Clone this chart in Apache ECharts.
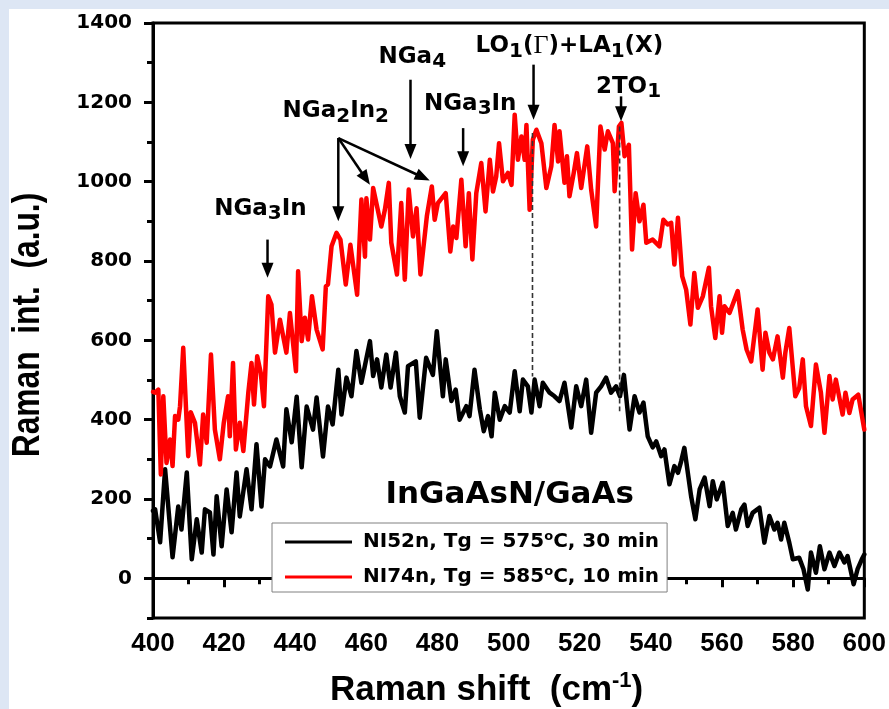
<!DOCTYPE html>
<html><head><meta charset="utf-8">
<script src="https://cdn.jsdelivr.net/npm/echarts@6.0.0/dist/echarts.min.js"></script>
<style>html,body{margin:0;padding:0;background:#dde6f4}#c{width:889px;height:709px}</style>
</head><body><div id="c"></div>
<script>
// ---------- data ----------
const seriesNames = ['NI52n, Tg = 575oC, 30 min', 'NI74n, Tg = 585oC, 10 min'];
const yTickValues = [0, 200, 400, 600, 800, 1000, 1200, 1400];
const yMinorTickValues = [-100, 100, 300, 500, 700, 900, 1100, 1300];

const blackX = [400,400.6,402,403.4,405.5,407.1,408,409.5,410.9,412.3,413.7,414.6,416,417,417.9,419.3,420.7,422.1,423.5,424.4,426.3,427.7,429.1,430.5,431.5,432.9,434.7,436.6,437.5,439,440.4,441.8,443.2,445,446,447.8,449.2,450.5,452.1,453,454.4,455.8,457.2,458.6,461,461.9,463,464.2,465.6,466.8,468.3,469.4,470.8,471.7,473.9,475,476.8,478.7,479.8,481.5,482.3,483.9,485.1,486.2,488.1,489,490.4,491.9,493,494.2,495.2,496.1,497.5,498.9,500.3,501.7,503.1,504,505.4,506.4,507.3,508.7,509.6,511.5,512.9,514.3,515.7,517.6,519,520.4,521.8,523.2,524.6,526,527.4,528.8,530.2,531.3,532.4,534,535.4,536.8,537.9,539.1,540.5,541.5,542.9,543.8,545.2,546.6,547.6,548.5,549.4,551.3,552.5,553.7,555.1,556.5,557.4,558.5,560.2,561.6,563,563.9,565.4,566.3,567.2,568.6,570.5,571.9,573.3,574.7,575.6,576.6,577.5,578.9,579.9,581.7,582.9,584.1,585,586.4,587.5,588.8,590.2,591.6,593,594.4,595.3,597,598.1,599.3,600];
const blackY = [170,174,91,275,53,181,123,267,48,149,65,174,166,60,207,81,224,116,267,156,275,174,338,181,300,282,350,282,426,343,458,280,433,375,456,307,433,388,526,413,506,459,573,493,598,510,552,481,564,481,569,459,418,535,547,405,556,513,623,459,552,447,476,400,434,409,526,426,371,409,358,468,400,434,418,522,421,501,484,418,501,434,493,468,459,447,493,380,484,434,501,367,468,484,506,468,484,459,513,375,459,418,443,358,330,345,308,325,237,283,266,295,329,207,149,224,254,182,245,199,241,132,165,123,174,186,132,165,178,90,157,123,140,98,140,90,48,52,23,-28,65,14,81,23,65,31,65,40,56,-15,23,48,60];

const redX = [400,400.6,401.5,402.2,402.9,403.8,404.8,405.5,406.2,407.1,407.6,408.5,409.9,410.6,411.8,413.2,414.1,415.1,416.3,417.4,418.8,419.9,421.1,421.6,422.5,423.3,424.4,425.4,426.8,427.7,428.4,429.3,430.3,431.2,432.4,433.3,434.3,435.7,437.5,438.5,440.2,440.8,441.8,442.7,443.6,444.7,446,447.7,448.6,449.2,450.2,451.6,452.7,454.2,455.5,457.4,458.6,459.6,460,461,461.9,464.2,465.2,466.3,467,468.6,469.8,470.8,471.9,473.1,474.1,475.2,477,478.4,479.2,480.1,482.3,483.6,484.4,485.3,486.7,487.9,488.8,489.8,490.9,492.3,493.5,494.7,495.6,496.5,497.3,498.4,499.8,500.8,501.7,502.6,503.6,504.5,505,505.9,506.8,507.8,509.2,510.6,512,512.9,513.9,514.3,515.7,516.4,517.1,518.3,519.2,520.4,522.1,523.2,524.6,525.8,527,527.9,529.3,529.8,531,531.7,532.6,533.8,534.7,535.7,536.8,537.9,538.7,540.5,542.4,543.5,544.7,545.7,546.6,547.6,548.8,549.9,551.1,552.2,553.2,554.6,556.3,556.9,558.1,559.3,560,560.7,562.1,564.4,565.8,566.9,568.2,570,571.4,572.2,573.3,574.3,575.6,577.1,577.8,578.9,580.6,581.7,582.7,583.6,585,586.4,587.8,588.8,590.2,591.1,592,593.9,594.7,595.8,596.7,598.3,600];
const redY = [470,468,476,262,459,291,350,283,409,400,434,581,308,419,392,287,413,342,564,375,300,392,459,358,543,325,392,321,468,543,438,560,518,434,711,690,569,652,569,669,522,774,598,657,602,711,627,577,736,741,837,871,854,741,841,715,955,811,958,854,984,887,929,997,846,766,946,753,980,862,933,766,913,988,904,946,971,824,887,858,1005,837,971,804,971,1047,925,1055,975,1013,1097,1001,1022,992,1169,1055,1114,1055,1143,929,1106,1131,1097,984,1039,1143,1051,1127,997,1064,963,1022,1072,984,1089,980,887,1139,1081,1127,1097,976,1139,1148,1064,1093,829,971,900,942,846,854,837,904,892,896,791,909,761,728,640,770,682,711,783,686,606,711,619,686,669,724,627,577,547,678,526,619,569,552,610,506,569,631,459,480,552,434,384,539,468,367,510,451,501,413,468,417,451,463,375];

// annotation texts (anchored in data coordinates)
const annotLabels = [
  {text: '{m|NGa}{s|3}{m|In}', at: [430.2, 932]},
  {text: '{m|NGa}{s|2}{m|In}{s|2}', at: [451.4, 1177]},
  {text: '{m|NGa}{s|4}', at: [472.9, 1314]},
  {text: '{m|NGa}{s|3}{m|In}', at: [489.2, 1196]},
  {text: '{m|LO}{s|1}{m|(}{g|Γ}{m|)+LA}{s|1}{m|(X)}', at: [517.1, 1341]},
  {text: '{m|2TO}{s|1}', at: [533.7, 1238]}
];
const annotArrows = [
  {from: [432.2, 854], to: [432.2, 758]},
  {from: [452.1, 1110], to: [452.1, 900]},
  {from: [452.1, 1110], to: [461.0, 992]},
  {from: [452.1, 1110], to: [477.8, 1003]},
  {from: [472.4, 1257], to: [472.4, 1057]},
  {from: [487.2, 1135], to: [487.2, 1039]},
  {from: [507.0, 1295], to: [507.0, 1156]},
  {from: [531.6, 1215], to: [531.6, 1152]}
];
const dashedLines = [
  {from: [506.7, 1123], to: [506.7, 509]},
  {from: [531.2, 1139], to: [531.2, 421]}
];
const sampleLabel = {text: 'InGaAsN/GaAs', at: [500.3, 209]};

// ---------- chart ----------
const zip = (xs, ys) => xs.map((x, i) => [x, ys[i]]);
const chart = echarts.init(document.getElementById('c'), null, {renderer: 'canvas'});
const legendFmt = name => {
  const p = name.split('oC');
  return '{t|' + p[0] + '}{sup|o}{t|C' + p[1] + '}';
};

chart.setOption({
  animation: false,
  backgroundColor: 'transparent',
  grid: {left: 153, right: 24, top: 23, bottom: 91, show: true, borderColor: '#000', borderWidth: 3, backgroundColor: 'transparent'},
  xAxis: [{
    type: 'value', min: 400, max: 600, interval: 20,
    axisLine: {show: true, lineStyle: {color: '#000', width: 3}},
    axisTick: {show: true, length: 9, lineStyle: {color: '#000', width: 3}},
    minorTick: {show: true, splitNumber: 2, length: 6, lineStyle: {color: '#000', width: 3}},
    splitLine: {show: false}, minorSplitLine: {show: false},
    axisLabel: {margin: 13, fontFamily: 'Liberation Sans', fontWeight: 'bold', fontSize: 26, color: '#000', formatter: v => String(v)}
  }],
  yAxis: [{
    type: 'value', min: -100, max: 1400, position: 'left',
    axisLine: {show: true, lineStyle: {color: '#000', width: 3}},
    axisTick: {show: true, length: 9, customValues: yTickValues, lineStyle: {color: '#000', width: 3}},
    axisLabel: {customValues: yTickValues, margin: 21, fontSize: 20, fontFamily: 'DejaVu Sans', fontWeight: 'bold', color: '#000', formatter: v => String(v)},
    splitLine: {show: false}
  }, {
    type: 'value', min: -100, max: 1400, position: 'left', offset: 0,
    axisLine: {show: false},
    axisTick: {show: true, length: 6, customValues: yMinorTickValues, lineStyle: {color: '#000', width: 3}},
    axisLabel: {show: false},
    splitLine: {show: false}
  }],
  legend: {
    orient: 'vertical', left: 272, top: 523, data: seriesNames,
    icon: 'rect', itemWidth: 67, itemHeight: 3, itemGap: 11,
    padding: [7, 8, 3, 13], borderColor: '#808080', borderWidth: 1, backgroundColor: '#fff',
    selectedMode: false, formatter: legendFmt,
    textStyle: {
      fontFamily: 'DejaVu Sans', fontWeight: 'bold', fontSize: 20, color: '#000', padding: [0, 0, 0, 6], lineHeight: 24,
      rich: {
        t: {fontFamily: 'DejaVu Sans', fontWeight: 'bold', fontSize: 20, color: '#000', lineHeight: 24},
        sup: {fontFamily: 'DejaVu Sans', fontWeight: 'bold', fontSize: 13, color: '#000', lineHeight: 12, verticalAlign: 'top'}
      }
    }
  },
  series: [{
    name: seriesNames[0], type: 'line', data: zip(blackX, blackY), symbol: 'none', showSymbol: false,
    lineStyle: {color: '#000', width: 4.5, join: 'round', cap: 'round'}, itemStyle: {color: '#000'}, silent: true, z: 3
  }, {
    name: seriesNames[1], type: 'line', data: zip(redX, redY), symbol: 'none', showSymbol: false,
    lineStyle: {color: '#ff0000', width: 4.5, join: 'round', cap: 'round'}, itemStyle: {color: '#ff0000'}, silent: true, z: 4
  }]
});

const toPx = p => chart.convertToPixel({gridIndex: 0}, p);
const els = [];
els.push({type: 'rect', z: -100, silent: true, shape: {x: 9, y: 9, width: 900, height: 720}, style: {fill: '#fff'}});

dashedLines.forEach(d => {
  const a = toPx(d.from), b = toPx(d.to);
  els.push({type: 'line', z: 5, silent: true, shape: {x1: a[0], y1: a[1], x2: b[0], y2: b[1]},
    style: {stroke: '#333', lineWidth: 1.6, lineDash: [5, 3]}});
});

annotArrows.forEach(ar => {
  const a = toPx(ar.from), b = toPx(ar.to);
  const dx = b[0] - a[0], dy = b[1] - a[1], len = Math.hypot(dx, dy);
  const ux = dx / len, uy = dy / len, nx = -uy, ny = ux;
  const L = 15, W = 6;
  const bx = b[0] - ux * L, by = b[1] - uy * L;
  els.push({type: 'line', z: 6, silent: true, shape: {x1: a[0], y1: a[1], x2: bx + ux * 2, y2: by + uy * 2},
    style: {stroke: '#000', lineWidth: 2.5}});
  els.push({type: 'polygon', z: 6, silent: true,
    shape: {points: [[b[0], b[1]], [bx + nx * W, by + ny * W], [bx - nx * W, by - ny * W]]},
    style: {fill: '#000'}});
});

const annotRich = {
  m: {fontFamily: 'DejaVu Sans', fontWeight: 'bold', fontSize: 23, fill: '#000', lineHeight: 30},
  s: {fontFamily: 'DejaVu Sans', fontWeight: 'bold', fontSize: 20, fill: '#000', lineHeight: 14, verticalAlign: 'bottom'},
  g: {fontFamily: 'Liberation Serif', fontWeight: 'normal', fontSize: 26, fill: '#000', lineHeight: 30}
};
annotLabels.forEach(l => {
  const p = toPx(l.at);
  els.push({type: 'text', z: 7, silent: true, x: p[0], y: p[1],
    style: {text: l.text, x: 0, y: 0, align: 'center', verticalAlign: 'middle', rich: annotRich}});
});

const sp = toPx(sampleLabel.at);
els.push({type: 'text', z: 7, silent: true, x: sp[0], y: sp[1],
  style: {text: sampleLabel.text, x: 0, y: 0, align: 'center', verticalAlign: 'middle',
    fontFamily: 'DejaVu Sans', fontWeight: 'bold', fontSize: 31, fill: '#000'}});

// axis titles
els.push({type: 'text', z: 7, silent: true, x: 330, y: 690,
  style: {text: '{t|Raman shift  (cm}{sup|-1}{t|)}', x: 0, y: 0, align: 'left', verticalAlign: 'middle',
    rich: {
      t: {fontFamily: 'Liberation Sans', fontWeight: 'bold', fontSize: 35, fill: '#000', lineHeight: 40},
      sup: {fontFamily: 'Liberation Sans', fontWeight: 'bold', fontSize: 22, fill: '#000', lineHeight: 20, verticalAlign: 'top'}
    }}});
els.push({type: 'text', z: 7, silent: true, x: 29, y: 325, rotation: Math.PI / 2, scaleX: 0.835, scaleY: 1,
  style: {text: 'Raman  int.  (a.u.)', x: 0, y: 0, align: 'center', verticalAlign: 'middle',
    fontFamily: 'Liberation Sans', fontWeight: 'bold', fontSize: 38, fill: '#000'}});

chart.setOption({graphic: {elements: els}});
</script>
</body></html>
